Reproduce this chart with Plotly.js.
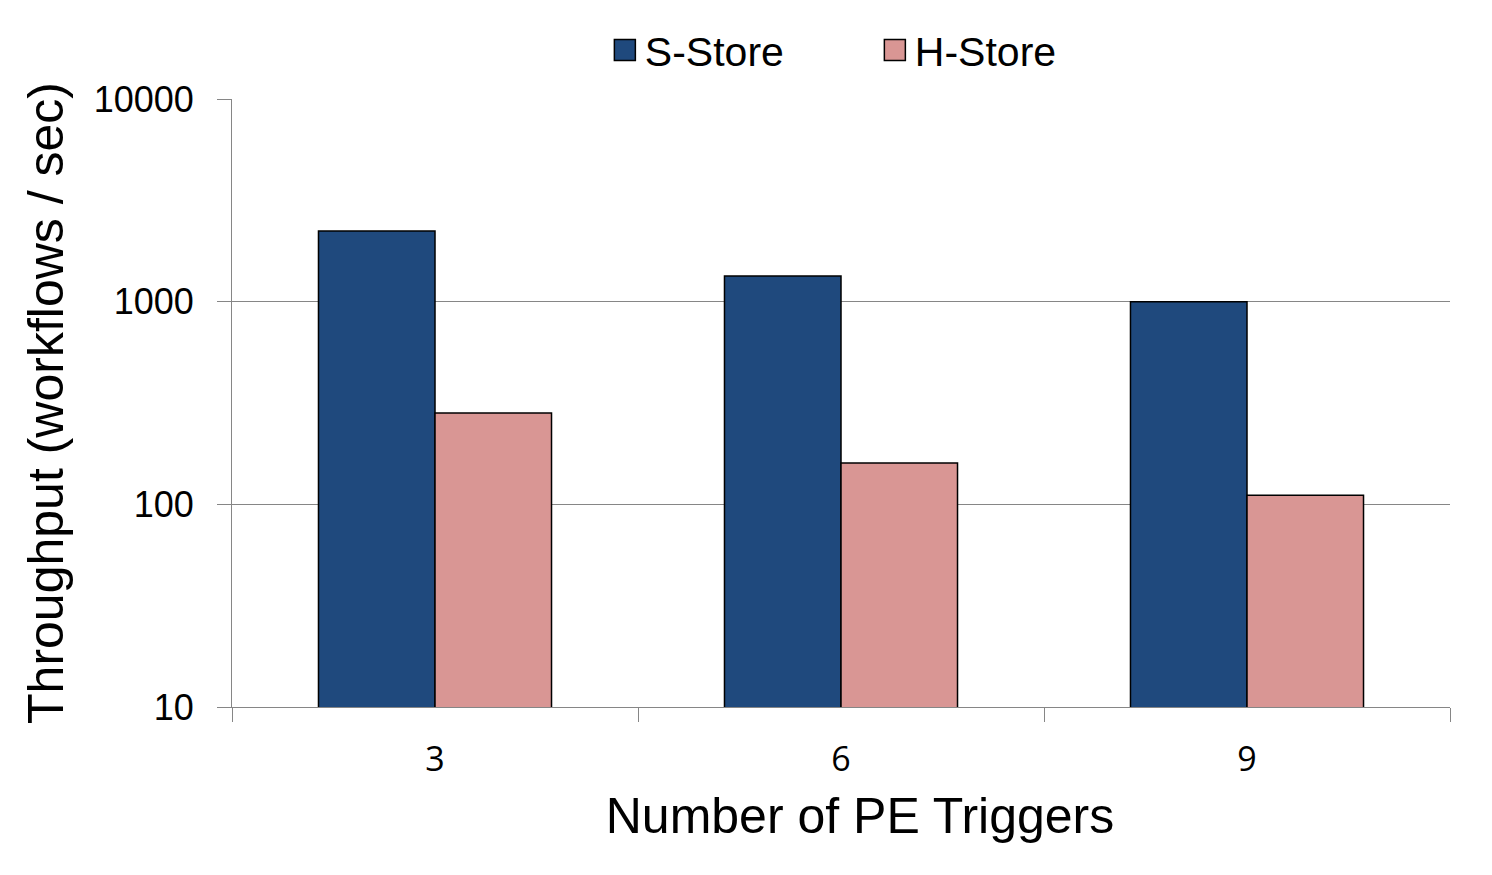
<!DOCTYPE html>
<html>
<head>
<meta charset="utf-8">
<script src="https://cdn.plot.ly/plotly-3.0.1.min.js"></script>
<style>html,body{margin:0;padding:0;background:#fff;}#chart{width:1492px;height:875px;}</style>
</head>
<body>
<div id="chart"></div>
<script>
const categories = ["3", "6", "9"];
const sStore = [2230, 1340, 1000];
const hStore = [282, 160, 111];
const yTickVals = [10, 100, 1000, 10000];
const yTickText = ["10", "100", "1000", "10000"];

const data = [
  {type: "bar", name: "S-Store", x: categories, y: sStore,
   marker: {color: "#1F497D", line: {color: "#000000", width: 1.5}}},
  {type: "bar", name: "H-Store", x: categories, y: hStore,
   marker: {color: "#D99694", line: {color: "#000000", width: 1.5}}}
];

const layout = {
  width: 1492, height: 875,
  paper_bgcolor: "#ffffff", plot_bgcolor: "#ffffff",
  margin: {l: 232, r: 42, t: 99, b: 168},
  barmode: "group", bargap: 0.426, bargroupgap: 0,
  showlegend: true,
  legend: {orientation: "h", x: 0.5278, xanchor: "center", y: 1.08, yanchor: "middle",
           font: {family: "Liberation Sans, Arial", size: 41, color: "#000"},
           entrywidth: 225, itemwidth: 30},
  xaxis: {type: "category", showline: true, linecolor: "#868686", linewidth: 1,
          ticks: "outside", tickson: "boundaries", ticklen: 14, tickcolor: "#868686",
          ticklabelstandoff: 22,
          tickfont: {family: "Open Sans", size: 34, color: "#000"},
          showgrid: false,
          title: {text: "Number of PE Triggers", standoff: 18,
                  font: {family: "Liberation Sans, Arial", size: 50, color: "#000"}}},
  yaxis: {type: "log", range: [1, 4], tickvals: yTickVals, ticktext: yTickText,
          showline: true, linecolor: "#868686", linewidth: 1,
          ticks: "outside", ticklen: 14, tickcolor: "#868686",
          ticklabelstandoff: 16,
          showgrid: true, gridcolor: "#868686", gridwidth: 1,
          zeroline: false,
          tickfont: {family: "Liberation Sans, Arial", size: 36, color: "#000"},
          title: {text: "Throughput (workflows / sec)", standoff: 14,
                  font: {family: "Liberation Sans, Arial", size: 50, color: "#000"}}}
};

Plotly.newPlot("chart", data, layout, {displayModeBar: false, staticPlot: true}).then(function (gd) {
  gd.querySelectorAll(".legend .legendpoints path").forEach(function (p) {
    p.setAttribute("d", "M10.5,10.5H-10.5V-10.5H10.5Z");
    p.style.strokeWidth = "1.5px";
  });
  const xt = gd.querySelector(".xtitle");
  if (xt) xt.setAttribute("transform", "translate(19,0)");
});
</script>
</body>
</html>
